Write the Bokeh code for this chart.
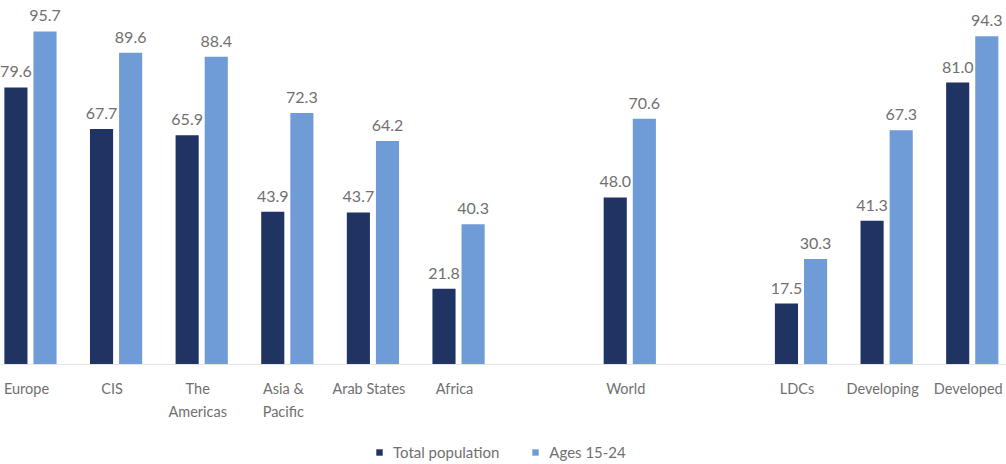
from bokeh.plotting import figure
from bokeh.models import ColumnDataSource, Range1d, Legend, LegendItem, Span
from bokeh.core.properties import value
from bokeh.embed import file_html
from bokeh.resources import INLINE

# Internet use by region (% of population), total vs. young people
regions = ["Europe", "CIS", "The\nAmericas", "Asia &\nPacific", "Arab States", "Africa",
           "World", "LDCs", "Developing", "Developed"]
slots = [0, 1, 2, 3, 4, 5, 7, 9, 10, 11]
total_population = [79.6, 67.7, 65.9, 43.9, 43.7, 21.8, 48.0, 17.5, 41.3, 81.0]
ages_15_24 = [95.7, 89.6, 88.4, 72.3, 64.2, 40.3, 70.6, 30.3, 67.3, 94.3]

DARK = "#1f3462"
LIGHT = "#6f9bd7"
TEXT = "#707070"
FONT = "Lato"
OFF = 0.17
BW = 0.27

src = ColumnDataSource(dict(
    slot=slots,
    region=regions,
    zero=[0] * len(slots),
    x_total=[s - OFF for s in slots],
    x_youth=[s + OFF for s in slots],
    total=total_population,
    youth=ages_15_24,
    total_lbl=[f"{v:.1f}" for v in total_population],
    youth_lbl=[f"{v:.1f}" for v in ages_15_24],
))

# the frame spans the whole page; the band below zero holds the category names and legend
p = figure(width=1006, height=464, output_backend="svg", toolbar_location=None,
           x_range=Range1d(-0.35, 11.40), y_range=Range1d(-28.74, 104.6),
           min_border=0)
p.outline_line_color = None
p.background_fill_color = "white"
p.border_fill_color = "white"
p.xgrid.visible = False
p.ygrid.visible = False
p.xaxis.visible = False
p.yaxis.visible = False

p.add_layout(Span(location=0, dimension="width", line_color="#e6e6e6", line_width=1))

r_total = p.vbar(x="x_total", top="total", width=BW, bottom=0, source=src,
                 fill_color=DARK, line_color=None)
r_youth = p.vbar(x="x_youth", top="youth", width=BW, bottom=0, source=src,
                 fill_color=LIGHT, line_color=None)

for xcol, ycol, tcol in (("x_total", "total", "total_lbl"), ("x_youth", "youth", "youth_lbl")):
    p.text(x=xcol, y=ycol, text=tcol, source=src, text_align="center",
           text_baseline="bottom", y_offset=-10, text_color=TEXT,
           text_font=value(FONT), text_font_size="16px")

# category names under the baseline
p.text(x="slot", y="zero", text="region", source=src, text_align="center",
       text_baseline="top", x_offset=-4, y_offset=16, text_color=TEXT,
       text_line_height=1.35, text_font=value(FONT), text_font_size="14.5px")

legend = Legend(items=[LegendItem(label="Total population", renderers=[r_total]),
                       LegendItem(label="Ages 15-24", renderers=[r_youth])],
                orientation="horizontal", location=(375, 3),
                glyph_width=8, glyph_height=8, label_standoff=10, spacing=32,
                padding=0, margin=0, border_line_alpha=0, background_fill_alpha=0,
                label_text_font=FONT, label_text_font_size="15px",
                label_text_color=TEXT)
p.add_layout(legend, "center")

open("out.html", "w").write(file_html(p, INLINE))
